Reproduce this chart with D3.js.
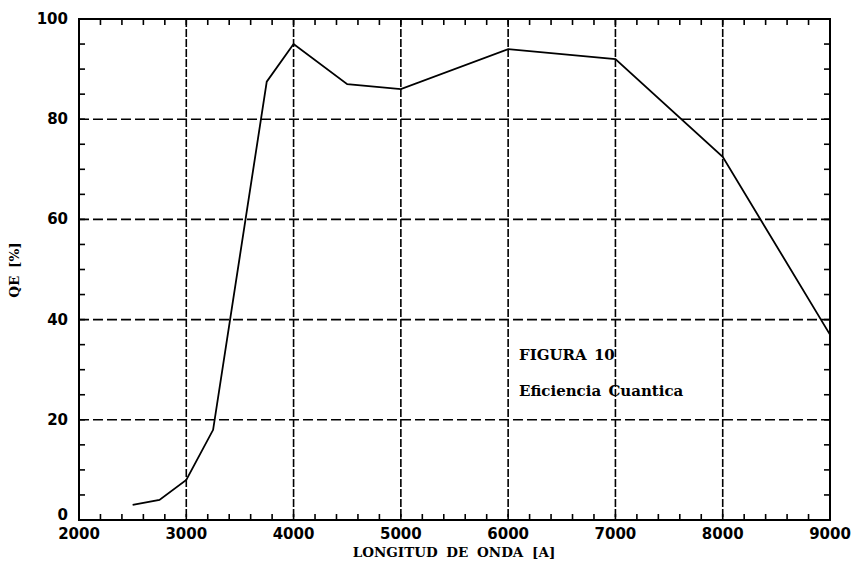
<!DOCTYPE html>
<html><head><meta charset="utf-8">
<script src="https://cdn.jsdelivr.net/npm/d3@7"></script>
<style>body{margin:0;background:#fff}svg{display:block}</style>
</head><body>
<svg id="c" width="854" height="566"></svg>
<script>
const wavelength = [2500, 2750, 3000, 3250, 3750, 4000, 4500, 5000, 6000, 7000, 8000, 9000];
const qe = [3, 4, 8, 18, 87.5, 95, 87, 86, 94, 92, 72.5, 37];
const xTicks = [2000, 3000, 4000, 5000, 6000, 7000, 8000, 9000];
const yTicks = [0, 20, 40, 60, 80, 100];
const xMinor = d3.range(2000, 9001, 200);
const yMinor = d3.range(0, 101, 5);
const annotations = ["FIGURA 10", "Eficiencia Cuantica"];

const svg = d3.select("#c");
const L = 79, R = 830, T = 19, B = 520;
const x = d3.scaleLinear().domain([2000, 9000]).range([L, R]);
const y = d3.scaleLinear().domain([0, 100]).range([B, T]);
const g = svg.append("g");

// grid
g.selectAll(".vg").data(xTicks.filter(d => d > 2000 && d < 9000)).join("line")
  .attr("x1", d => x(d)).attr("x2", d => x(d)).attr("y1", T).attr("y2", B)
  .attr("stroke", "#000").attr("stroke-width", 1.6).attr("stroke-dasharray", "8,2");
g.selectAll(".hg").data(yTicks.filter(d => d > 0 && d < 100)).join("line")
  .attr("y1", d => y(d)).attr("y2", d => y(d)).attr("x1", L).attr("x2", R)
  .attr("stroke", "#000").attr("stroke-width", 1.6).attr("stroke-dasharray", "10,4");

// minor ticks inward
const tl = 6;
g.selectAll(".xb").data(xMinor).join("line")
  .attr("x1", d => x(d)).attr("x2", d => x(d)).attr("y1", B).attr("y2", B - tl)
  .attr("stroke", "#000").attr("stroke-width", 1.6);
g.selectAll(".xt").data(xMinor).join("line")
  .attr("x1", d => x(d)).attr("x2", d => x(d)).attr("y1", T).attr("y2", T + tl)
  .attr("stroke", "#000").attr("stroke-width", 1.6);
g.selectAll(".yl").data(yMinor).join("line")
  .attr("y1", d => y(d)).attr("y2", d => y(d)).attr("x1", L).attr("x2", L + tl)
  .attr("stroke", "#000").attr("stroke-width", 1.6);
g.selectAll(".yr").data(yMinor).join("line")
  .attr("y1", d => y(d)).attr("y2", d => y(d)).attr("x1", R).attr("x2", R - tl)
  .attr("stroke", "#000").attr("stroke-width", 1.6);

// frame
g.append("rect").attr("x", L).attr("y", T).attr("width", R - L).attr("height", B - T)
  .attr("fill", "none").attr("stroke", "#000").attr("stroke-width", 2);

// data line
const line = d3.line().x((d, i) => x(wavelength[i])).y(d => y(d));
g.append("path").datum(qe).attr("d", line).attr("fill", "none")
  .attr("stroke", "#000").attr("stroke-width", 1.8).attr("stroke-linejoin", "miter");

// tick labels
const numFont = "DejaVu Sans";
g.selectAll(".xl").data(xTicks).join("text")
  .attr("x", d => x(d)).attr("y", 539).attr("text-anchor", "middle")
  .attr("font-family", numFont).attr("font-weight", "bold").attr("font-size", 15)
  .text(d => d);
g.selectAll(".ylab").data(yTicks).join("text")
  .attr("x", 68).attr("y", d => d === 0 ? y(d) : y(d) + 5).attr("text-anchor", "end")
  .attr("font-family", numFont).attr("font-weight", "bold").attr("font-size", 15)
  .text(d => d);

// axis titles
const serif = "DejaVu Serif";
g.append("text").attr("x", 454).attr("y", 557).attr("text-anchor", "middle")
  .attr("font-family", serif).attr("font-weight", "bold").attr("font-size", 13.5)
  .attr("word-spacing", 4).text("LONGITUD DE ONDA [A]");
g.append("text").attr("transform", "translate(19,270) rotate(-90)").attr("text-anchor", "middle")
  .attr("font-family", serif).attr("font-weight", "bold").attr("font-size", 13.5)
  .attr("word-spacing", 3).text("QE [%]");

// annotations
g.selectAll(".ann").data(annotations).join("text")
  .attr("x", 519).attr("y", (d, i) => 360 + i * 36)
  .attr("font-family", serif).attr("font-weight", "bold").attr("font-size", 15)
  .attr("word-spacing", 2).text(d => d);
</script>
</body></html>
